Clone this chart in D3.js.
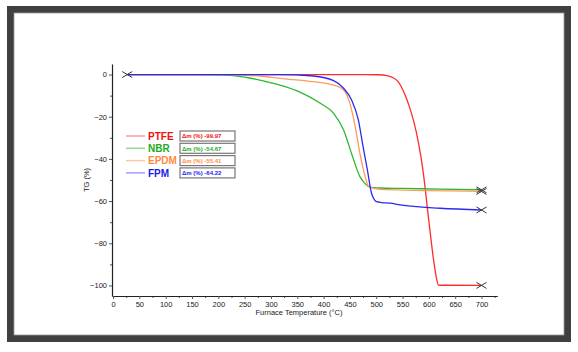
<!DOCTYPE html>
<html>

<head>
  <title>TG Chart</title>
  <meta charset="UTF-8">
  <script src="https://d3js.org/d3.v7.min.js"></script>
  <style type="text/css">
    body {
      margin: 0;
      background: #ffffff;
      font-family: "Liberation Sans", Arial, sans-serif;
    }
  </style>
</head>

<body>
  <script type="text/javascript">
    // Data
    var seriesNames = ['PTFE', 'NBR', 'EPDM', 'FPM'];
    var massLoss = ['-99.97', '-54.67', '-55.41', '-64.22'];

    var ptfeTemp = [27, 100, 200, 300, 400, 480, 505, 520, 532, 542, 552, 562, 571, 580, 588, 593, 597, 603, 609, 614, 618, 625, 700];
    var ptfeTg = [0, 0, 0, 0, 0, 0, -0.1, -0.5, -1.5, -3.5, -8, -14.5, -22, -32, -44, -54, -63, -76, -88, -96, -99.8, -99.9, -99.97];

    var nbrTemp = [27, 150, 205, 250, 290, 317, 355, 393, 419, 438, 453, 469, 478, 485, 495, 507, 550, 621, 700];
    var nbrTg = [0, 0, -0.2, -1.2, -3.3, -5, -8.3, -13.5, -18.4, -26.3, -37.4, -48.4, -51.5, -53, -53.6, -53.8, -54, -54.3, -54.67];

    var epdmTemp = [27, 200, 250, 279, 317, 380, 419, 438, 450, 460, 469, 479, 485, 495, 507, 600, 700];
    var epdmTg = [0, 0, -0.3, -0.7, -1.8, -3.4, -5, -7.3, -13.7, -24.7, -37.4, -48.4, -52.8, -54, -54.4, -55, -55.41];

    var fpmTemp = [27, 250, 317, 380, 419, 438, 453, 466, 475, 483, 491, 497, 501, 510, 526, 545, 621, 700];
    var fpmTg = [0, 0, 0, -0.7, -2.9, -6.5, -12, -21.5, -34.2, -45, -56.3, -59.5, -60.3, -60.7, -61, -61.8, -63.4, -64.22];

    var xTicks = d3.range(0, 701, 50);
    var xMinorTicks = d3.range(25, 726, 50);
    var yTicks = [0, -20, -40, -60, -80, -100];
    var yMinorTicks = [-10, -30, -50, -70, -90];

    var seriesColors = ['#ff2b2b', '#2db82d', '#ff9b5e', '#2b2bf0'];
    var textColors = ['#f01010', '#22aa22', '#ff8a40', '#1a1aee'];
    var legendColors = ['#ff9c9c', '#8edc8e', '#ffc6a4', '#9c9cff'];

    var series = [
      { temp: ptfeTemp, tg: ptfeTg },
      { temp: nbrTemp, tg: nbrTg },
      { temp: epdmTemp, tg: epdmTg },
      { temp: fpmTemp, tg: fpmTg }
    ];

    var width = 578, height = 352;

    var svg = d3.select('body').append('svg')
      .attr('width', width)
      .attr('height', height);

    // dark frame round the picture
    svg.append('rect')
      .attr('x', 10.5).attr('y', 9.5)
      .attr('width', 557).attr('height', 329)
      .style('fill', '#ffffff')
      .style('stroke', '#404040')
      .style('stroke-width', 7);
    svg.append('rect')
      .attr('x', 14).attr('y', 13)
      .attr('width', 550).attr('height', 322)
      .style('fill', 'none')
      .style('stroke', '#9a9a9a')
      .style('stroke-width', 0.8);

    // scales
    var x = d3.scaleLinear().domain([-2, 730]).range([112, 497.3]);
    var y = d3.scaleLinear().domain([-105, 5]).range([296, 64]);

    // minor ticks first, so the labelled axes sit on top
    svg.append('g')
      .attr('class', 'minor')
      .attr('transform', 'translate(0,296)')
      .call(d3.axisBottom(x).tickValues(xMinorTicks).tickSize(2).tickSizeOuter(0).tickFormat(''))
      .select('.domain').remove();
    svg.append('g')
      .attr('class', 'minor')
      .attr('transform', 'translate(112,0)')
      .call(d3.axisLeft(y).tickValues(yMinorTicks).tickSize(2).tickSizeOuter(0).tickFormat(''))
      .select('.domain').remove();

    // x axis
    svg.append('g')
      .attr('class', 'xaxis')
      .attr('transform', 'translate(0,296)')
      .call(d3.axisBottom(x).tickValues(xTicks).tickFormat(d3.format('d')).tickSize(3).tickSizeOuter(0).tickPadding(3));

    // y axis
    svg.append('g')
      .attr('class', 'yaxis')
      .attr('transform', 'translate(112,0)')
      .call(d3.axisLeft(y).tickValues(yTicks).tickSize(3).tickSizeOuter(0).tickPadding(2));

    svg.selectAll('.domain').style('stroke', '#222').style('stroke-width', 1.2);
    svg.selectAll('.tick line').style('stroke', '#555');
    svg.selectAll('.xaxis .tick text, .yaxis .tick text')
      .style('font-family', '"Liberation Sans", Arial, sans-serif')
      .style('font-size', '7.5px')
      .style('fill', '#222');

    // axis titles
    svg.append('text')
      .attr('x', 299).attr('y', 315)
      .style('text-anchor', 'middle')
      .style('font-size', '7.5px')
      .style('fill', '#222')
      .text('Furnace Temperature (°C)');

    svg.append('text')
      .attr('transform', 'translate(89,' + y(-50) + ') rotate(-90)')
      .style('text-anchor', 'middle')
      .style('font-size', '7.5px')
      .style('fill', '#222')
      .text('TG (%)');

    // curves
    var line = d3.line()
      .x(function (d) { return x(d[0]); })
      .y(function (d) { return y(d[1]); })
      .curve(d3.curveMonotoneX);

    series.forEach(function (s, i) {
      var pts = s.temp.map(function (t, j) { return [t, s.tg[j]]; });
      svg.append('path')
        .datum(pts)
        .attr('d', line)
        .style('fill', 'none')
        .style('stroke', seriesColors[i])
        .style('stroke-width', 1.3);
    });

    // cross markers at start and end of each run
    function cross(px, py) {
      return 'M' + (px - 5) + ',' + (py - 3) + 'L' + (px + 5) + ',' + (py + 3) +
        'M' + (px - 5) + ',' + (py + 3) + 'L' + (px + 5) + ',' + (py - 3);
    }
    var marks = [[ptfeTemp[0], ptfeTg[0]]];
    series.forEach(function (s) {
      var n = s.temp.length - 1;
      marks.push([s.temp[n], s.tg[n]]);
    });
    svg.selectAll('.mark')
      .data(marks)
      .enter().append('path')
      .attr('class', 'mark')
      .attr('d', function (d) { return cross(x(d[0]), y(d[1])); })
      .style('stroke', '#333')
      .style('stroke-width', 1);

    // legend
    var legend = svg.append('g').attr('transform', 'translate(126,136)');
    seriesNames.forEach(function (name, i) {
      var row = legend.append('g').attr('transform', 'translate(0,' + (i * 12.3) + ')');
      row.append('line')
        .attr('x1', 0).attr('x2', 19)
        .attr('y1', 0).attr('y2', 0)
        .style('stroke', legendColors[i])
        .style('stroke-width', 1.5);
      row.append('text')
        .attr('x', 22).attr('y', 3.6)
        .style('font-size', '10px')
        .style('font-weight', 'bold')
        .style('fill', textColors[i])
        .text(name);
      row.append('rect')
        .attr('x', 54).attr('y', -5)
        .attr('width', 55).attr('height', 10)
        .style('fill', '#ffffff')
        .style('stroke', '#777')
        .style('stroke-width', 1.2);
      row.append('text')
        .attr('x', 56).attr('y', 2.2)
        .style('font-size', '6px')
        .style('font-weight', 'bold')
        .style('fill', textColors[i])
        .text('Δm (%) ' + massLoss[i]);
    });
  </script>
</body>

</html>
